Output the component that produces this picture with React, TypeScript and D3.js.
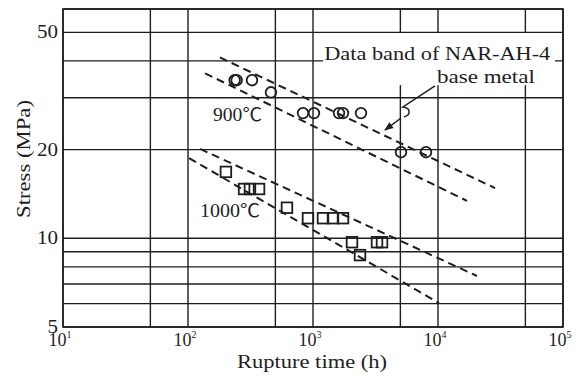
import React from "react";
import * as d3 from "d3";

const W = 582;
const H = 381;
const M = { left: 63, right: 19, top: 9, bottom: 54 };

// Axis definitions
const xDomain = [10, 100000];
const yDomain = [5, 60];
const xGrid = [10, 50, 100, 500, 1000, 5000, 10000, 50000, 100000];
const yGrid = [5, 6, 7, 8, 9, 10, 20, 30, 40, 50, 60];
const xTicks = [10, 100, 1000, 10000, 100000];
const xTickExp = ["1", "2", "3", "4", "5"];
const yTicks = [5, 10, 20, 50];
const yTickLabels = ["5", "10", "20", "50"];

// 900 °C data (circles)
const t900 = [236, 245, 325, 461, 832, 1018, 1614, 1738, 2421, 5058, 8017];
const s900 = [34.4, 34.4, 34.4, 31.3, 26.6, 26.6, 26.6, 26.6, 26.6, 19.6, 19.6];

// 1000 °C data (squares)
const t1000 = [201, 281, 313, 370, 619, 912, 1202, 1445, 1738, 2051, 2377, 3251, 3565];
const s1000 = [16.8, 14.7, 14.7, 14.7, 12.7, 11.7, 11.7, 11.7, 11.7, 9.7, 8.77, 9.7, 9.7];

// Data band lines of NAR-AH-4 base metal [time, stress]
const band900Upper = [[180, 41.1], [28600, 14.8]];
const band900Lower = [[137, 36.3], [17060, 13.4]];
const band1000Upper = [[125, 20.1], [20500, 7.45]];
const band1000Lower = [[102, 18.7], [10190, 6.03]];
const bands = [band900Upper, band900Lower, band1000Upper, band1000Lower];

// Annotation leader (time, stress): start, squiggle start, arrow tip
const leaderStart = [9462, 32.9];
const leaderBend = [5248, 27.9];
const leaderTip = [3767, 23.3];
const labelBox = [[1202, 49.7], [86300, 33.1]];

const FONT = "'Liberation Serif', 'Times New Roman', 'Noto Sans CJK JP', serif";
const INK = "#1e1e1e";

export default function App() {
  const x = d3.scaleLog().domain(xDomain).range([M.left, W - M.right]);
  const y = d3.scaleLog().domain(yDomain).range([H - M.bottom, M.top]);
  const line = d3
    .line<number[]>()
    .x((d) => x(d[0]))
    .y((d) => y(d[1]));

  const x0 = x(xDomain[0]);
  const x1 = x(xDomain[1]);
  const y0 = y(yDomain[0]);
  const y1 = y(yDomain[1]);

  const p0 = [x(leaderStart[0]), y(leaderStart[1])];
  const p1 = [x(leaderBend[0]), y(leaderBend[1])];
  const tip = [x(leaderTip[0]), y(leaderTip[1])];
  const squiggle = `M${p0[0]},${p0[1]} L${p1[0]},${p1[1]} C${p1[0] + 8},${p1[1] + 1} ${p1[0] + 8},${p1[1] + 8} ${p1[0] + 1},${p1[1] + 10}`;
  const arrowStart = [p1[0] - 2, p1[1] + 11];

  return (
    <svg
      width={W}
      height={H}
      style={{ position: "absolute", left: 0, top: 0, background: "#fff" }}
      fontFamily={FONT}
    >
      <defs>
        <marker
          id="arrow"
          viewBox="0 0 10 10"
          refX="9"
          refY="5"
          markerWidth="10"
          markerHeight="9"
          markerUnits="userSpaceOnUse"
          orient="auto"
        >
          <path d="M0,1 L10,5 L0,9 Z" fill={INK} />
        </marker>
      </defs>
      <rect width={W} height={H} fill="#fff" />

      {/* grid */}
      {xGrid.map((v) => (
        <line key={"gx" + v} x1={x(v)} x2={x(v)} y1={y1} y2={y0} stroke={INK} strokeWidth={1.4} />
      ))}
      {yGrid.map((v) => (
        <line key={"gy" + v} x1={x0} x2={x1} y1={y(v)} y2={y(v)} stroke={INK} strokeWidth={1.4} />
      ))}
      <rect x={x0} y={y1} width={x1 - x0} height={y0 - y1} fill="none" stroke={INK} strokeWidth={1.6} />

      {/* label box (white background) */}
      <rect
        x={x(labelBox[0][0])}
        y={y(labelBox[0][1])}
        width={x(labelBox[1][0]) - x(labelBox[0][0])}
        height={y(labelBox[1][1]) - y(labelBox[0][1])}
        fill="#fff"
      />
      <text x={x(1230)} y={y(40.3)} fontSize={19} fill={INK} textLength={226} lengthAdjust="spacingAndGlyphs">
        Data band of NAR-AH-4
      </text>
      <text x={x(9800)} y={y(33.6)} fontSize={19} fill={INK} textLength={98} lengthAdjust="spacingAndGlyphs">
        base metal
      </text>

      {/* leader */}
      <path d={squiggle} fill="none" stroke={INK} strokeWidth={1.5} />
      <path
        d={`M${arrowStart[0]},${arrowStart[1]} L${tip[0]},${tip[1]}`}
        fill="none"
        stroke={INK}
        strokeWidth={1.5}
        markerEnd="url(#arrow)"
      />

      {/* bands */}
      {bands.map((b, i) => (
        <path key={"b" + i} d={line(b) || ""} fill="none" stroke={INK} strokeWidth={2} strokeDasharray="8,5" />
      ))}

      {/* 900 circles */}
      {t900.map((t, i) => (
        <circle key={"c" + i} cx={x(t)} cy={y(s900[i])} r={5.3} fill="none" stroke={INK} strokeWidth={1.8} />
      ))}
      {/* 1000 squares */}
      {t1000.map((t, i) => (
        <rect
          key={"s" + i}
          x={x(t) - 5.3}
          y={y(s1000[i]) - 5.3}
          width={10.6}
          height={10.6}
          fill="none"
          stroke={INK}
          strokeWidth={1.8}
        />
      ))}

      {/* series labels */}
      <text
        x={x(249)}
        y={y(25.0)}
        fontSize={18}
        fill={INK}
        textAnchor="middle"
        textLength={49}
        lengthAdjust="spacingAndGlyphs"
      >
        900℃
      </text>
      <text
        x={x(217)}
        y={y(11.8)}
        fontSize={18}
        fill={INK}
        textAnchor="middle"
        textLength={60}
        lengthAdjust="spacingAndGlyphs"
      >
        1000℃
      </text>

      {/* y tick labels */}
      {yTicks.map((v, i) => (
        <text
          key={"yt" + v}
          x={x0 - 5}
          y={y(v) + 6}
          fontSize={18}
          fill={INK}
          textAnchor="end"
          textLength={yTickLabels[i].length * 10.5}
          lengthAdjust="spacingAndGlyphs"
        >
          {yTickLabels[i]}
        </text>
      ))}

      {/* x tick labels */}
      {xTicks.map((v, i) => (
        <text key={"xt" + v} x={x(v) - 3} y={y0 + 19} fontSize={18} fill={INK} textAnchor="middle">
          10
          <tspan dy={-8} fontSize={10}>
            {xTickExp[i]}
          </tspan>
        </text>
      ))}

      {/* axis titles */}
      <text
        x={312}
        y={368}
        fontSize={18}
        fill={INK}
        textAnchor="middle"
        textLength={150}
        lengthAdjust="spacingAndGlyphs"
      >
        Rupture time (h)
      </text>
      <text
        transform="translate(30,159) rotate(-90)"
        fontSize={18}
        fill={INK}
        textAnchor="middle"
        textLength={118}
        lengthAdjust="spacingAndGlyphs"
      >
        Stress (MPa)
      </text>
    </svg>
  );
}
